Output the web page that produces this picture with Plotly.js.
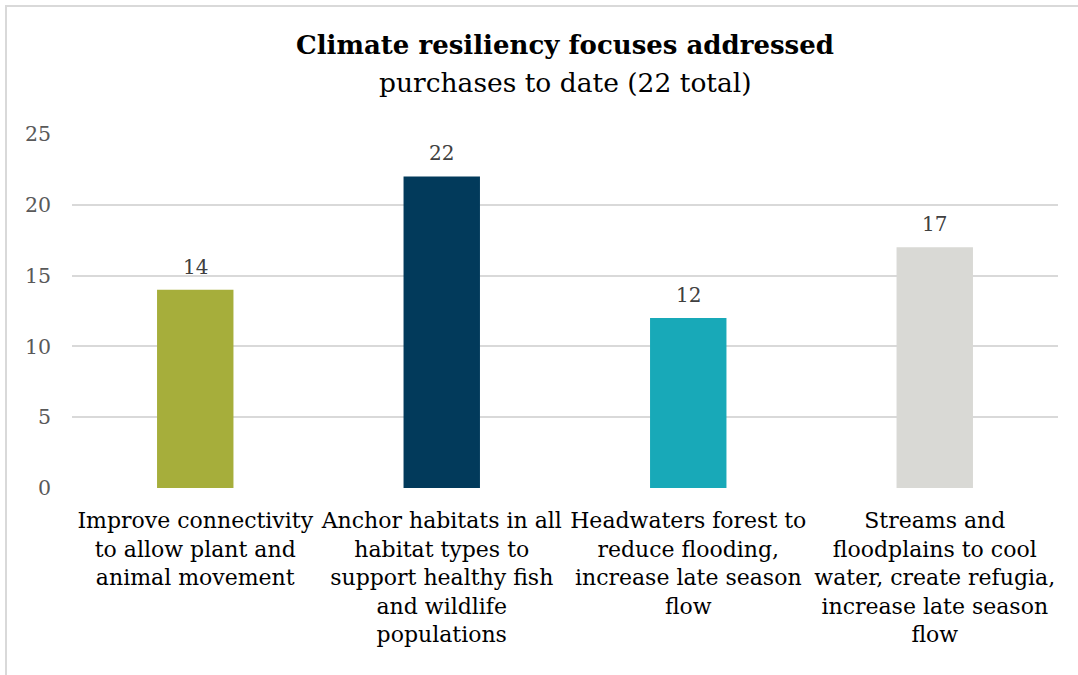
<!DOCTYPE html>
<html><head><meta charset="utf-8">
<script src="https://cdn.plot.ly/plotly-3.0.1.min.js"></script>
<style>
html,body{margin:0;padding:0;background:#fff;}
#wrap{position:relative;width:1078px;height:675px;}
#chart{width:1078px;height:675px;}
#frame{position:absolute;left:5px;top:5px;right:0;bottom:0;border-top:2px solid #d9d9d9;border-left:2px solid #d9d9d9;pointer-events:none;}
</style></head>
<body>
<div id="wrap"><div id="chart"></div><div id="frame"></div></div>
<script>
const categories = [
  "Improve connectivity<br>to allow plant and<br>animal movement",
  "Anchor habitats in all<br>habitat types to<br>support healthy fish<br>and wildlife<br>populations",
  "Headwaters forest to<br>reduce flooding,<br>increase late season<br>flow",
  "Streams and<br>floodplains to cool<br>water, create refugia,<br>increase late season<br>flow"
];
const values = [14, 22, 12, 17];
const barColors = ["#a6ae3b", "#023a5b", "#18a9b8", "#d9d9d5"];
const yTicks = [0, 5, 10, 15, 20, 25];
const titleText = "Climate resiliency focuses addressed";
const subtitleText = "purchases to date (22 total)";

const font = "'DejaVu Serif', serif";

const valueLabels = categories.map((c, i) => ({
  x: c, y: values[i], xref: "x", yref: "y",
  text: String(values[i]), showarrow: false,
  yanchor: "bottom", yshift: 9,
  font: {family: font, size: 20, color: "#404040"}
}));

Plotly.newPlot("chart", [{
  type: "bar",
  x: categories,
  y: values,
  marker: {color: barColors},
  hoverinfo: "none"
}], {
  width: 1078, height: 675,
  margin: {l: 72, r: 20, t: 134, b: 187},
  paper_bgcolor: "#fff", plot_bgcolor: "#fff",
  bargap: 0.69,
  showlegend: false,
  title: {
    text: "<b>" + titleText + "</b>",
    x: 0.5, xanchor: "center", xref: "paper",
    y: 1 - 45 / 675, yanchor: "middle", yref: "container",
    font: {family: font, size: 26, color: "#000"}
  },
  annotations: valueLabels.concat([{
    x: 0.5, y: (488 - 83) / 354, xref: "paper", yref: "paper",
    xanchor: "center", yanchor: "middle", showarrow: false,
    text: subtitleText,
    font: {family: font, size: 26.5, color: "#000"}
  }]),
  xaxis: {
    type: "category",
    tickfont: {family: font, size: 22, color: "#000"},
    showgrid: false, showline: false, ticks: "", zeroline: false,
    ticklabelstandoff: 17
  },
  yaxis: {
    range: [0, 25],
    tickvals: yTicks,
    ticktext: yTicks.map(String),
    tickfont: {family: font, size: 20.5, color: "#595959"},
    gridcolor: "#d9d9d9", gridwidth: 2,
    zeroline: false, showline: false, ticks: "",
    ticklabelstandoff: 20
  },
  font: {family: font}
}, {staticPlot: true});
</script>
</body></html>
